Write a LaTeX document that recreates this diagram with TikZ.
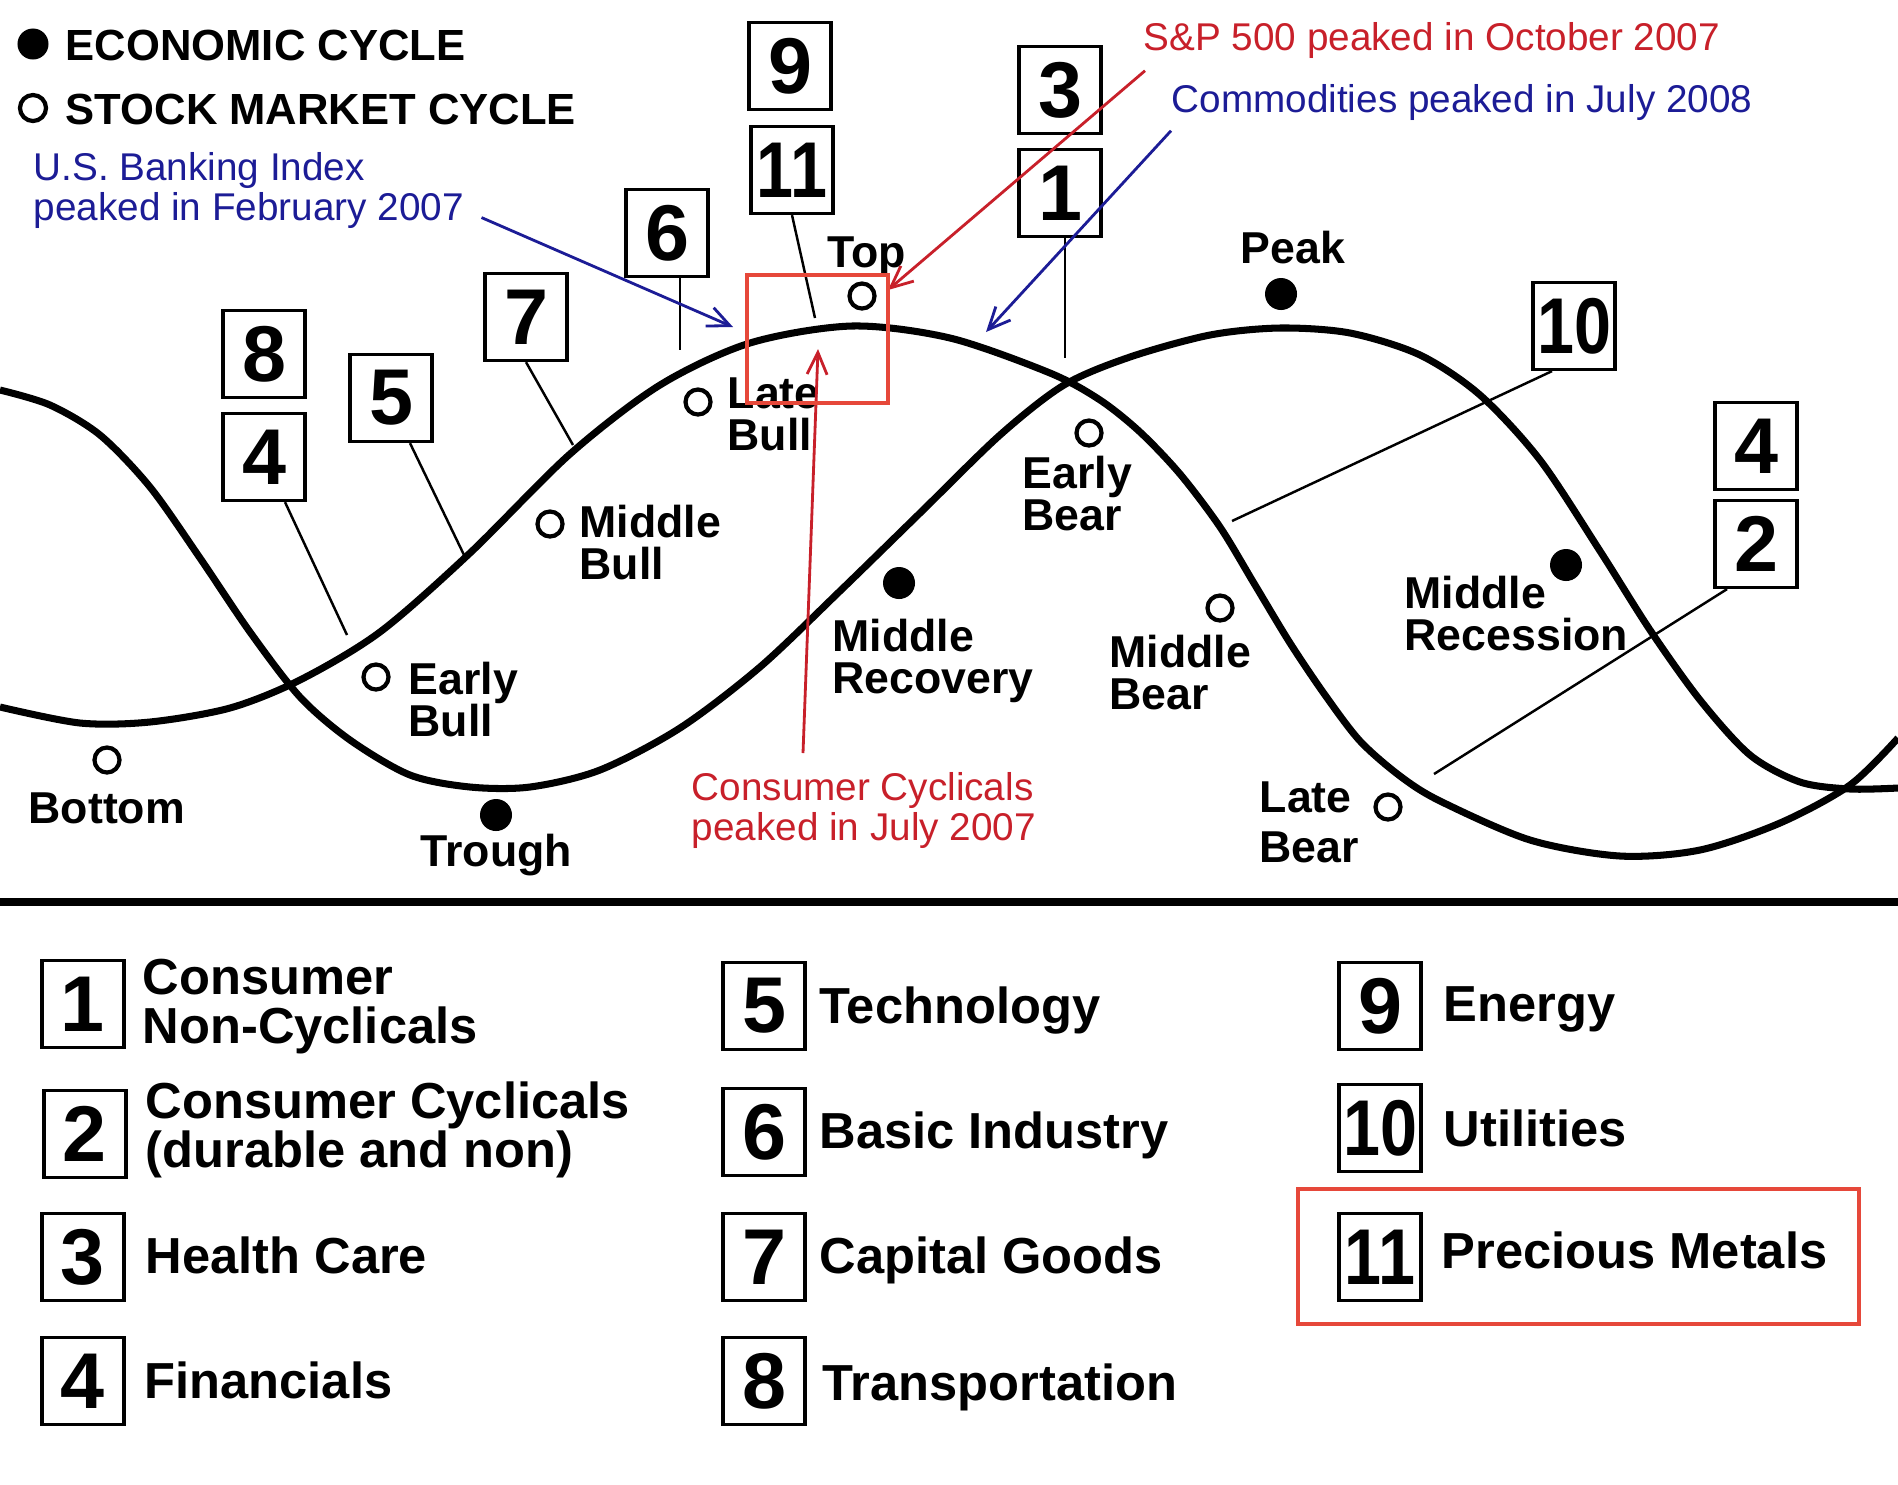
\documentclass[tikz,border=0pt]{standalone}
\usepackage{fontspec}
\setmainfont{Liberation Sans}
\usetikzlibrary{arrows.meta}

\definecolor{annred}{RGB}{200,32,42}
\definecolor{annblue}{RGB}{28,28,150}
\definecolor{markred}{RGB}{230,72,58}
\newcommand{\twodig}[1]{\scalebox{0.84}[1]{#1}}

\tikzset{
  numbox/.style={draw, line width=0.9pt, minimum width=0.82cm, minimum height=0.87cm,
    inner sep=0pt, font=\fontsize{22.5}{22.5}\selectfont\bfseries},
  phase/.style={inner sep=0pt, align=left, anchor=north west,
    font=\fontsize{12.7}{12}\selectfont\bfseries},
  keytxt/.style={inner sep=0pt, anchor=base west, font=\fontsize{12.4}{12}\selectfont\bfseries},
  legtxt/.style={inner sep=0pt, align=left, font=\fontsize{14.4}{14}\selectfont\bfseries},
  note/.style={inner sep=0pt, align=left, font=\fontsize{11}{11.4}\selectfont},
  stockmk/.style={circle, draw, line width=1.2pt, minimum size=0.25cm, inner sep=0pt},
  econmk/.style={circle, fill, minimum size=0.32cm, inner sep=0pt},
  wave/.style={line width=2pt, line join=round},
  leader/.style={line width=0.7pt},
  pointer/.style={line width=0.8pt, -{Straight Barb[length=2.2mm, width=2mm]}},
}

\begin{document}
\begin{tikzpicture}[x=0.01cm, y=-0.01cm]
\useasboundingbox (0,0) rectangle (1898,1484);
\fill[white] (0,0) rectangle (1898,1484);

% ---- key, top left ----
\node[econmk, minimum size=0.31cm] (keyE) at (33,44) {};
\node[keytxt] (keyEtxt) at (65,60) {ECONOMIC CYCLE};
\node[stockmk, minimum size=0.26cm] (keyS) at (33,108) {};
\node[keytxt] (keyStxt) at (65,124) {STOCK MARKET CYCLE};

% ---- the two cycles ----
% stock market
\draw[wave] plot[smooth] coordinates {(0,707) (80,723) (150,722) (230,708) (300,680)
  (380,632) (470,553) (570,454) (660,385) (750,343) (852,326) (950,338) (1050,373)
  (1100,400) (1140,432) (1180,474) (1220,527) (1255,585) (1290,643) (1325,695)
  (1360,741) (1400,776) (1440,801) (1530,840) (1620,856) (1700,850) (1780,823)
  (1850,785) (1898,738)};
% economy
\draw[wave] plot[smooth] coordinates {(0,390) (50,405) (100,435) (150,487) (200,558)
  (250,632) (300,697) (350,740) (410,775) (470,787) (530,787) (600,770) (680,728)
  (760,667) (840,591) (920,513) (1000,435) (1064,385) (1130,357) (1210,335)
  (1280,328) (1350,333) (1420,355) (1480,395) (1540,460) (1600,551) (1650,630)
  (1700,700) (1750,755) (1800,782) (1850,789) (1898,788)};

% ---- phase markers ----
\foreach \nm/\x/\y in {top/862/296, latebull/698/402, midbull/550/524, earlybull/376/677,
                       bottom/107/760, earlybear/1089/433, midbear/1220/608, latebear/1388/807}
  \node[stockmk] (o-\nm) at (\x,\y) {};
\foreach \nm/\x/\y in {trough/496/815, midrec/899/583, peak/1281/294, midrecess/1566/565}
  \node[econmk] (d-\nm) at (\x,\y) {};

% ---- phase labels ----
\node[phase, anchor=base west] (lTop) at (827,267) {Top};
\node[phase, anchor=base west] (lPeak) at (1240,263) {Peak};
\node[phase, anchor=base west] (lBottom) at (28,823) {Bottom};
\node[phase, anchor=base west] (lTrough) at (420,866) {Trough};
\node[phase] (lLateBull) at (727,377) {Late\\Bull};
\node[phase] (lMidBull) at (579,504) {Middle\\Bull};
\node[phase] (lEarlyBull) at (408,661) {Early\\Bull};
\node[phase] (lMidRec) at (832,618) {Middle\\Recovery};
\node[phase] (lEarlyBear) at (1022,455) {Early\\Bear};
\node[phase] (lMidBear) at (1109,634) {Middle\\Bear};
\node[phase] (lMidRecess) at (1404,575) {Middle\\Recession};
\node[phase] (lLateBear) at (1259,781) {Late\\[2.3pt]Bear};

% ---- sector boxes on the chart ----
\foreach \nm/\x/\y/\t in {9/790/66/9, 11/792/170/\twodig{11}, 3/1060/90/3, 1/1060/193/1,
                          6/667/233/6, 7/526/317/7, 8/264/354/8, 4a/264/457/4, 5/391/398/5,
                          10/1574/326/\twodig{10}, 4b/1756/446/4, 2/1756/544/2}
  \node[numbox] (b\nm) at (\x,\y) {\t};

\coordinate (e11) at (815,318);
\coordinate (e6) at (680,350);
\coordinate (e1) at (1065,358);
\coordinate (e7) at (573,445);
\coordinate (e4a) at (347,635);
\coordinate (e5) at (465,557);
\coordinate (e10) at (1232,521);
\coordinate (e2) at (1434,774);
\draw[leader] (b11.south) -- (e11);
\draw[leader] (b6.south -| e6) -- (e6);
\draw[leader] (b1.south -| e1) -- (e1);
\draw[leader] (b7.south) -- (e7);
\draw[leader] ([xshift=0.21cm]b4a.south) -- (e4a);
\draw[leader] ([xshift=0.19cm]b5.south) -- (e5);
\draw[leader] ([xshift=-0.22cm]b10.south) -- (e10);
\draw[leader] ([xshift=-0.29cm]b2.south) -- (e2);

% ---- peaks of 2007/2008 ----
\node[note, text=annblue, anchor=north west] (bank) at (33,152) {U.S. Banking Index\\peaked in February 2007};
\node[note, text=annred, anchor=base west] (sp) at (1143,50) {S\&P 500 peaked in October 2007};
\node[note, text=annblue, anchor=base west] (com) at (1171,112) {Commodities peaked in July 2008};
\node[note, text=annred, anchor=north west] (cc) at (691,772) {Consumer Cyclicals\\peaked in July 2007};

\coordinate (tipBank) at (733,327);
\coordinate (tipSP) at (888,290);
\coordinate (tipCom) at (986,332);
\coordinate (tipCC) at (818,349);
\draw[pointer, annblue] ([shift={(17,-12)}]bank.south east) -- (tipBank);
\draw[pointer, annred] ([shift={(2,12)}]sp.south west) -- (tipSP);
\draw[pointer, annblue] ([shift={(0,10)}]com.south west) -- (tipCom);
\draw[pointer, annred] ([shift={(112,-19)}]cc.north west) -- (tipCC);

\draw[markred, line width=0.9pt] (747,275) rectangle (888,403);

% ---- separator ----
\draw[line width=2.4pt] (0,902) -- (1898,902);

% ---- sector key ----
\foreach \nm/\x/\y/\t in {1/83/1004/1, 2/85/1134/2, 3/83/1257/3, 4/83/1381/4,
                          5/764/1006/5, 6/764/1132/6, 7/764/1257/7, 8/764/1381/8,
                          9/1380/1006/9, 10/1380/1128/\twodig{10}, 11/1380/1257/\twodig{11}}
  \node[numbox] (k\nm) at (\x,\y) {\t};

\node[legtxt, anchor=north west] (t1) at (142,958) {Consumer\\Non-Cyclicals};
\node[legtxt, anchor=north west] (t2) at (145,1081) {Consumer Cyclicals\\(durable and non)};
\foreach \nm/\x/\y/\t in {3/145/1273/Health Care, 4/144/1398/Financials,
                          5/819/1023/Technology, 6/819/1148/Basic Industry,
                          7/819/1273/Capital Goods, 8/822/1400/Transportation,
                          9/1443/1021/Energy, 10/1443/1146/Utilities, 11/1441/1268/Precious Metals}
  \node[legtxt, anchor=base west] (t\nm) at (\x,\y) {\t};

\draw[markred, line width=0.9pt] (1298,1189) rectangle (1859,1324);
\end{tikzpicture}
\end{document}
